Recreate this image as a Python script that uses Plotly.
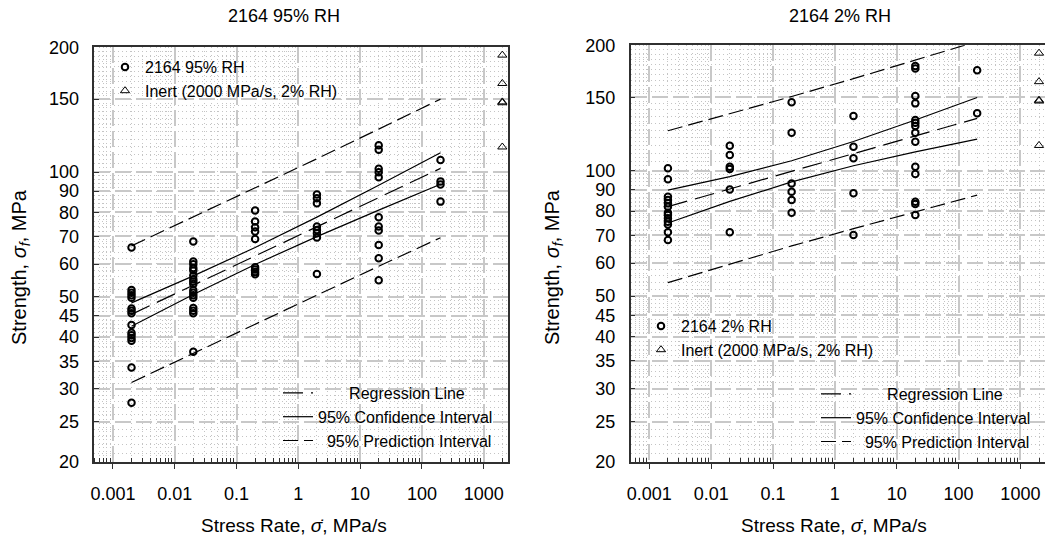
import plotly.graph_objects as go

# ---------------- data ----------------
rates = [0.002, 0.02, 0.2, 2, 20, 200]

# 2164, 95% RH : strength (MPa) at each stress rate
wet_0002 = [65.8, 52.0, 51.2, 50.5, 49.8, 46.9, 46.3, 45.7, 42.8, 41.0, 40.4, 39.8, 39.2, 33.8, 27.8]
wet_002 = [68.0, 60.9, 60.0, 58.7, 57.9, 56.3, 55.2, 54.5, 53.7, 51.9, 51.2, 50.5, 49.8, 47.0, 46.3, 45.7, 36.9]
wet_02 = [80.8, 76.0, 73.6, 71.9, 69.0, 59.0, 58.2, 57.4, 56.7]
wet_2 = [88.3, 86.5, 84.1, 73.9, 72.5, 71.2, 69.6, 56.8]
wet_20 = [116.1, 113.3, 101.9, 100.0, 97.2, 77.8, 73.9, 72.3, 66.7, 62.0, 54.9]
wet_200 = [107.0, 95.0, 93.4, 84.9]

# 2164, 2% RH
dry_0002 = [101.4, 95.4, 86.6, 85.1, 83.5, 82.0, 79.3, 78.3, 76.9, 75.4, 74.3, 71.2, 68.2]
dry_002 = [114.8, 109.1, 102.2, 101.0, 90.2, 71.2]
dry_02 = [146.0, 123.4, 93.2, 89.0, 85.1, 79.3]
dry_2 = [135.3, 114.2, 107.1, 88.3, 70.1]
dry_20 = [178.4, 176.0, 151.2, 145.1, 132.4, 130.4, 128.0, 123.4, 117.4, 102.2, 98.2, 84.2, 83.2, 78.3]
dry_200 = [174.2, 137.4]

# inert strength (2000 MPa/s, 2% RH)
inert_rate = 2000
inert_strength = [191.5, 163.6, 147.7, 147.0, 115.0]

# regression line and intervals read at each decade
wet_reg = [45.4, 53.4, 62.8, 73.8, 86.8, 102.1]
wet_ci_up = [48.4, 56.2, 65.8, 77.9, 93.0, 111.4]
wet_ci_lo = [42.5, 50.7, 59.9, 69.9, 81.0, 93.5]
wet_pi_up = [66.4, 77.9, 91.6, 107.7, 127.0, 150.0]
wet_pi_lo = [31.1, 36.6, 43.1, 50.5, 59.3, 69.5]

dry_reg = [82.0, 90.4, 99.7, 109.9, 121.2, 133.6]
dry_ci_up = [89.8, 96.8, 105.7, 117.5, 132.4, 149.9]
dry_ci_lo = [74.9, 84.4, 94.0, 102.8, 111.0, 119.1]
dry_pi_up = [124.7, 136.9, 150.7, 166.3, 184.2, 204.3]
dry_pi_lo = [53.9, 59.7, 66.0, 72.6, 79.7, 87.4]

x_ticks = [0.001, 0.01, 0.1, 1, 10, 100, 1000]
x_ticktext = ["0.001", "0.01", "0.1", "1", "10", "100", "1000"]
y_ticks = [20, 25, 30, 35, 40, 45, 50, 60, 70, 80, 90, 100, 150, 200]

# ---------------- helpers ----------------
def stack(groups):
    xs, ys = [], []
    for r, vals in zip(rates, groups):
        xs += [r] * len(vals)
        ys += vals
    return xs, ys

wet_x, wet_y = stack([wet_0002, wet_002, wet_02, wet_2, wet_20, wet_200])
dry_x, dry_y = stack([dry_0002, dry_002, dry_02, dry_2, dry_20, dry_200])

FONT = "Arial, Liberation Sans, sans-serif"
REG_DASH = "20px,8px"
PI_DASH = "15px,6px"
LW = 1.2

fig = go.Figure()

def add_panel(xa, ya, reg, ciu, cil, piu, pil, px, py, label, leg_pts, leg_lines):
    nb = "\u00a0"
    fig.add_trace(go.Scatter(x=rates, y=reg, mode="lines", xaxis=xa, yaxis=ya,
                             line=dict(color="black", width=LW, dash=REG_DASH),
                             name=nb * 7 + "Regression Line", legend=leg_lines))
    fig.add_trace(go.Scatter(x=rates, y=ciu, mode="lines", xaxis=xa, yaxis=ya,
                             line=dict(color="black", width=LW),
                             name="95% Confidence Interval", legend=leg_lines))
    fig.add_trace(go.Scatter(x=rates, y=cil, mode="lines", xaxis=xa, yaxis=ya,
                             line=dict(color="black", width=LW), showlegend=False,
                             legend=leg_lines))
    fig.add_trace(go.Scatter(x=rates, y=piu, mode="lines", xaxis=xa, yaxis=ya,
                             line=dict(color="black", width=LW, dash=PI_DASH),
                             name=nb * 2 + "95% Prediction Interval", legend=leg_lines))
    fig.add_trace(go.Scatter(x=rates, y=pil, mode="lines", xaxis=xa, yaxis=ya,
                             line=dict(color="black", width=LW, dash=PI_DASH), showlegend=False,
                             legend=leg_lines))
    fig.add_trace(go.Scatter(x=px, y=py, mode="markers", xaxis=xa, yaxis=ya,
                             marker=dict(symbol="circle-open", size=6.5, color="black", line=dict(width=2)),
                             name=label, legend=leg_pts))
    fig.add_trace(go.Scatter(x=[inert_rate] * len(inert_strength), y=inert_strength, mode="markers",
                             xaxis=xa, yaxis=ya,
                             marker=dict(symbol="triangle-up-open", size=8, color="black", line=dict(width=1)),
                             name="Inert (2000 MPa/s, 2% RH)", legend=leg_pts))

add_panel("x", "y", wet_reg, wet_ci_up, wet_ci_lo, wet_pi_up, wet_pi_lo, wet_x, wet_y,
          "2164 95% RH", "legend", "legend2")
add_panel("x2", "y2", dry_reg, dry_ci_up, dry_ci_lo, dry_pi_up, dry_pi_lo, dry_x, dry_y,
          "2164 2% RH", "legend3", "legend4")

x_minor = [k * 10.0 ** e for e in range(-4, 4) for k in range(2, 10)]
y_minor = ([v for v in range(21, 50) if v % 5 != 0] +
           [v for v in range(52, 100, 2) if v % 10 != 0] +
           [v for v in range(105, 200, 5) if v != 150])

GRID = dict(showgrid=True, gridcolor="#c8c8c8", gridwidth=1.5, griddash="16px,5px")
MINOR_GRID = dict(showgrid=True, gridcolor="#c4c4c4", gridwidth=1, griddash="1px,3px")

def xaxis(domain, anchor):
    return dict(type="log", domain=domain, anchor=anchor, range=[-3.301, 3.398],
                automargin=False,
                tickmode="array", tickvals=x_ticks, ticktext=x_ticktext,
                ticks="outside", ticklen=5, tickwidth=1, tickcolor="#303030",
                ticklabelstandoff=10,
                showline=True, linecolor="#303030", linewidth=1.5, mirror=True,
                minor=dict(tickmode="array", tickvals=x_minor, ticks="inside", ticklen=4,
                           tickcolor="#303030", tickwidth=1, **MINOR_GRID),
                tickfont=dict(family=FONT, size=18, color="black"),
                zeroline=False, **GRID)

def yaxis(domain, anchor):
    return dict(type="log", domain=domain, anchor=anchor, range=[1.30103, 2.30103],
                automargin=False,
                tickmode="array", tickvals=y_ticks, ticktext=[str(v) for v in y_ticks],
                ticks="inside", ticklen=5, tickwidth=1, tickcolor="#303030",
                ticklabelstandoff=10,
                showline=True, linecolor="#303030", linewidth=1.5, mirror=True,
                minor=dict(tickmode="array", tickvals=y_minor, ticks="", **MINOR_GRID),
                tickfont=dict(family=FONT, size=18, color="black"),
                zeroline=False, **GRID)

W, H = 1045, 546
def px_x(v):
    return v / W
def px_y(v):
    return 1 - v / H

fig.update_layout(
    width=W, height=H,
    margin=dict(l=0, r=0, t=0, b=0, pad=0, autoexpand=False),
    paper_bgcolor="white", plot_bgcolor="white",
    font=dict(family=FONT, color="black"),
    xaxis=xaxis([px_x(94.3), px_x(508.3)], "y"),
    yaxis=yaxis([px_y(462), px_y(47.3)], "x"),
    xaxis2=xaxis([px_x(630.7), 1.0], "y2"),
    yaxis2=yaxis([px_y(462), px_y(45.3)], "x2"),
)

leg_common = dict(bgcolor="rgba(0,0,0,0)", borderwidth=0, xanchor="left", yanchor="top",
                  tracegroupgap=0, font=dict(family=FONT, size=16, color="black"))
fig.update_layout(
    legend=dict(x=px_x(105), y=px_y(50), **leg_common),
    legend2=dict(x=px_x(278), y=px_y(376), **leg_common),
    legend3=dict(x=px_x(641), y=px_y(309), **leg_common),
    legend4=dict(x=px_x(816), y=px_y(377), **leg_common),
)

ann = []
for tx, cx, title in [(284, 294, "2164 95% RH"), (840, 834, "2164 2% RH")]:
    ann.append(dict(text=title, x=px_x(tx), y=px_y(16), xref="paper", yref="paper",
                    showarrow=False, font=dict(family=FONT, size=18), xanchor="center", yanchor="middle"))
    ann.append(dict(text="Stress Rate, <i>σ̇</i>, MPa/s", x=px_x(cx), y=px_y(525), xref="paper", yref="paper",
                    showarrow=False, font=dict(family=FONT, size=19), xanchor="center", yanchor="middle"))
for cx in [20, 553]:
    ann.append(dict(text="Strength, <i>σ</i><sub><i>f</i></sub>, MPa", x=px_x(cx), y=px_y(267),
                    xref="paper", yref="paper", textangle=-90, showarrow=False,
                    font=dict(family=FONT, size=20), xanchor="center", yanchor="middle"))
fig.update_layout(annotations=ann)

fig.write_html("out.html", config={"displayModeBar": False},
               post_script="document.body.style.margin='0px';document.body.style.overflow='hidden';")
